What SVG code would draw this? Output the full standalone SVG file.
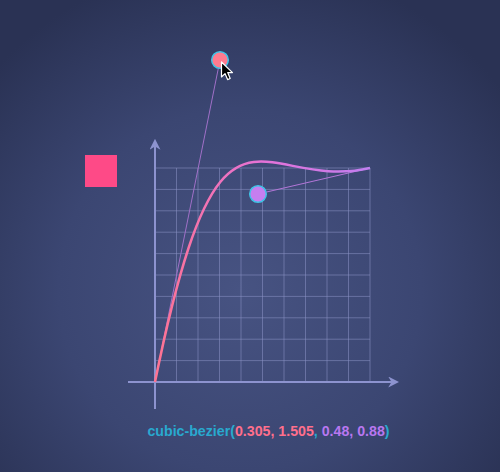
<svg xmlns="http://www.w3.org/2000/svg" width="500" height="472" viewBox="0 0 500 472">
  <defs>
    <radialGradient id="bg" cx="240" cy="290" r="330" gradientUnits="userSpaceOnUse">
      <stop offset="0" stop-color="#475382"/>
      <stop offset="0.55" stop-color="#3b4672"/>
      <stop offset="1" stop-color="#2a3254"/>
    </radialGradient>
    <linearGradient id="curveGrad" x1="155" y1="0" x2="370" y2="0" gradientUnits="userSpaceOnUse">
      <stop offset="0" stop-color="#ff7390"/>
      <stop offset="0.5" stop-color="#e572d8"/>
      <stop offset="1" stop-color="#c07ef0"/>
    </linearGradient>
    <marker id="arrow" viewBox="0 0 10 10" refX="8" refY="5" markerWidth="11" markerHeight="11" orient="auto" markerUnits="userSpaceOnUse">
      <path d="M0,0 L10,5 L0,10 L3,5 Z" fill="#8d93cf"/>
    </marker>
    <style>
      .grid line { stroke: #8b92c4; stroke-opacity: 0.55; stroke-width: 1; }
      .axis { stroke: #8d93cf; stroke-width: 2; fill: none; }
      .handle-line { stroke-width: 1; fill: none; }
      .handle { stroke: #3fc3e6; stroke-width: 1.5; }
      .label { font-family: "Liberation Sans", Arial, sans-serif; font-size: 14.2px; font-weight: bold; }
      .teal { fill: #29a9cf; }
      .pink { fill: #ff6f8c; }
      .purple { fill: #b877f0; }
    </style>
  </defs>

  <rect x="0" y="0" width="500" height="472" fill="url(#bg)"/>

  <g id="grid" class="grid">
    <line x1="155" y1="168" x2="370" y2="168"/>
    <line x1="155" y1="189.4" x2="370" y2="189.4"/>
    <line x1="155" y1="210.8" x2="370" y2="210.8"/>
    <line x1="155" y1="232.2" x2="370" y2="232.2"/>
    <line x1="155" y1="253.6" x2="370" y2="253.6"/>
    <line x1="155" y1="275" x2="370" y2="275"/>
    <line x1="155" y1="296.4" x2="370" y2="296.4"/>
    <line x1="155" y1="317.8" x2="370" y2="317.8"/>
    <line x1="155" y1="339.2" x2="370" y2="339.2"/>
    <line x1="155" y1="360.6" x2="370" y2="360.6"/>
    <line x1="176.5" y1="168" x2="176.5" y2="382"/>
    <line x1="198" y1="168" x2="198" y2="382"/>
    <line x1="219.5" y1="168" x2="219.5" y2="382"/>
    <line x1="241" y1="168" x2="241" y2="382"/>
    <line x1="262.5" y1="168" x2="262.5" y2="382"/>
    <line x1="284" y1="168" x2="284" y2="382"/>
    <line x1="305.5" y1="168" x2="305.5" y2="382"/>
    <line x1="327" y1="168" x2="327" y2="382"/>
    <line x1="348.5" y1="168" x2="348.5" y2="382"/>
    <line x1="370" y1="168" x2="370" y2="382"/>
  </g>

  <g id="axes">
    <line class="axis" x1="155" y1="409" x2="155" y2="141" marker-end="url(#arrow)"/>
    <line class="axis" x1="128" y1="382" x2="397" y2="382" marker-end="url(#arrow)"/>
  </g>

  <g id="connectors">
    <line class="handle-line" x1="155" y1="382" x2="220" y2="60" stroke="#a070c8"/>
    <line class="handle-line" x1="370" y1="168" x2="258" y2="194" stroke="#b376d8"/>
  </g>

  <g id="curve">
    <path d="M155,382 C220.6,60 258.2,193.7 370,168" fill="none" stroke="url(#curveGrad)" stroke-width="2.5"/>
  </g>

  <g id="square">
    <rect x="85" y="155" width="32" height="32" fill="#fe4a87"/>
  </g>

  <g id="handle-p1">
    <circle class="handle" cx="220" cy="60" r="8.3" fill="#ff7b8f"/>
  </g>

  <g id="handle-p2">
    <circle class="handle" cx="258" cy="194" r="8.3" fill="#c67ef0"/>
  </g>

  <g id="cursor">
    <path d="M221.5,62 L221.5,77 L225,73.6 L227.6,79.6 L230.2,78.5 L227.7,72.6 L232.5,72.6 Z" fill="#000" stroke="#fff" stroke-width="1.2" stroke-linejoin="round"/>
  </g>

  <g id="label">
    <text class="label" x="268.5" y="436" text-anchor="middle"><tspan class="teal">cubic-bezier(</tspan><tspan class="pink">0.305, 1.505</tspan><tspan class="teal">, </tspan><tspan class="purple">0.48, 0.88</tspan><tspan class="teal">)</tspan></text>
  </g>
</svg>
